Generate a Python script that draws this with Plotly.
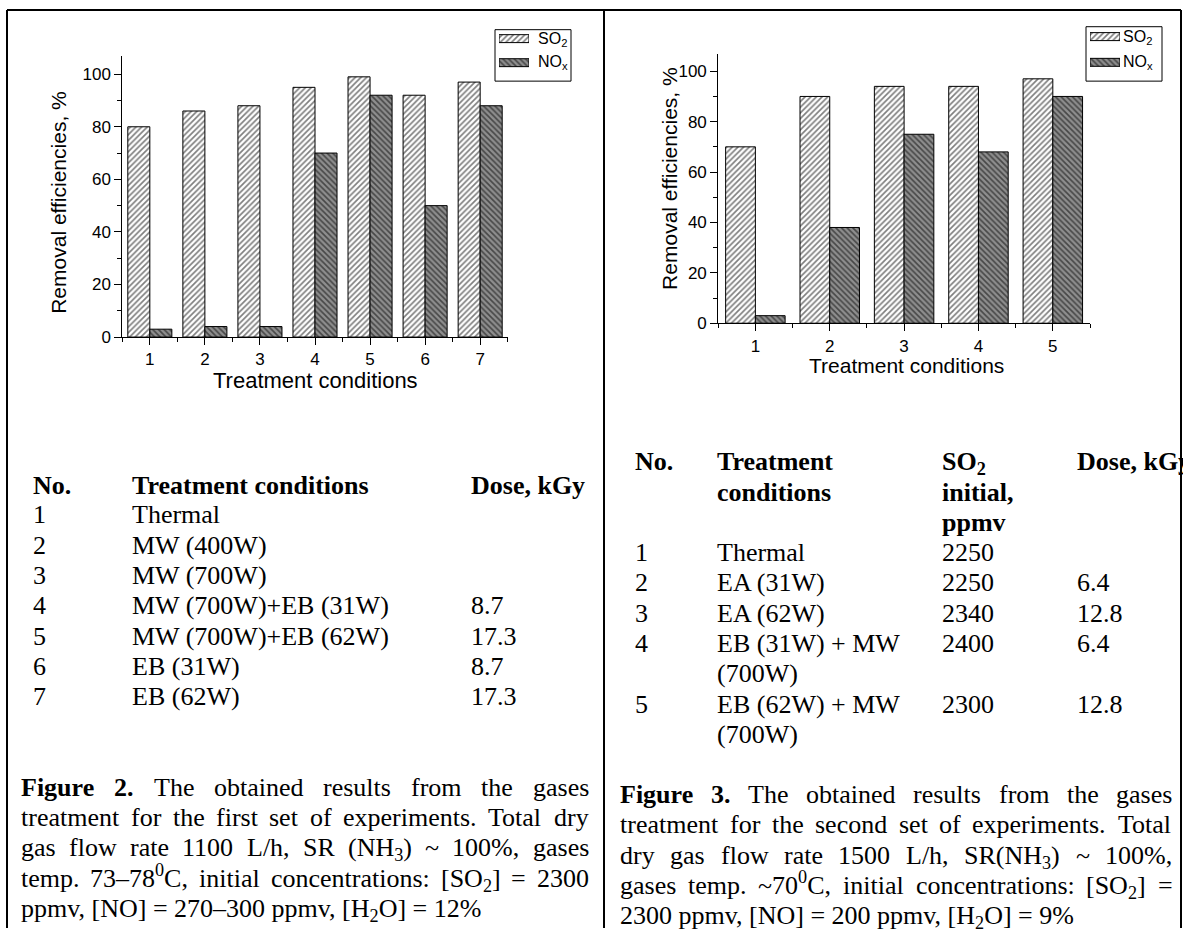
import re
import plotly.graph_objects as go

W, H = 1183, 938

# ---------------- data ----------------
conditions_fig2 = [1, 2, 3, 4, 5, 6, 7]
so2_fig2 = [80, 86, 88, 95, 99, 92, 97]
nox_fig2 = [3, 4, 4, 70, 92, 50, 88]

conditions_fig3 = [1, 2, 3, 4, 5]
so2_fig3 = [70, 90, 94, 94, 97]
nox_fig3 = [3, 38, 75, 68, 90]

series_names = ["SO<sub>2</sub>", "NO<sub>x</sub>"]
x_title = "Treatment conditions"
y_title = "Removal efficiencies, %"
y_ticks = [0, 20, 40, 60, 80, 100]
y_minor = [10, 30, 50, 70, 90]

table2_header = ["No.", "Treatment conditions", "Dose, kGy"]
table2_rows = [
    ["1", "Thermal", ""],
    ["2", "MW (400W)", ""],
    ["3", "MW (700W)", ""],
    ["4", "MW (700W)+EB (31W)", "8.7"],
    ["5", "MW (700W)+EB (62W)", "17.3"],
    ["6", "EB (31W)", "8.7"],
    ["7", "EB (62W)", "17.3"],
]

table3_header = [
    ["No.", "Treatment", "SO<sub>2</sub>", "Dose, kGy"],
    ["", "conditions", "initial,", ""],
    ["", "", "ppmv", ""],
]
table3_rows = [
    ["1", "Thermal", "2250", ""],
    ["2", "EA (31W)", "2250", "6.4"],
    ["3", "EA (62W)", "2340", "12.8"],
    ["4", "EB (31W) + MW", "2400", "6.4"],
    ["", "(700W)", "", ""],
    ["5", "EB (62W) + MW", "2300", "12.8"],
    ["", "(700W)", "", ""],
]

caption2_lines = [
    "<b>Figure</b> <b>2.</b> The obtained results from the gases",
    "treatment for the first set of experiments. Total dry",
    "gas flow rate 1100 L/h, SR (NH<sub>3</sub>) ~ 100%, gases",
    "temp. 73–78<sup>0</sup>C, initial concentrations: [SO<sub>2</sub>] = 2300",
    "ppmv, [NO] = 270–300 ppmv, [H<sub>2</sub>O] = 12%",
]
caption3_lines = [
    "<b>Figure</b> <b>3.</b> The obtained results from the gases",
    "treatment for the second set of experiments. Total",
    "dry gas flow rate 1500 L/h, SR(NH<sub>3</sub>) ~ 100%,",
    "gases temp. ~70<sup>0</sup>C, initial concentrations: [SO<sub>2</sub>] =",
    "2300 ppmv, [NO] = 200 ppmv, [H<sub>2</sub>O] = 9%",
]

# ---------------- helpers ----------------
SANS = "Liberation Sans, Arial, sans-serif"
SERIF = "Liberation Serif, Times New Roman, serif"
TXT_FS = 26

# Times New Roman advance widths (1/1000 em), used only for justification
REG = dict(zip("abcdefghijklmnopqrstuvwxyz",
               [444, 500, 444, 500, 444, 333, 500, 500, 278, 278, 500, 278, 778,
                500, 500, 500, 500, 333, 389, 278, 500, 500, 722, 500, 500, 444]))
REG.update(dict(zip("ABCDEFGHIJKLMNOPQRSTUVWXYZ",
                    [722, 667, 667, 722, 611, 556, 722, 722, 333, 389, 722, 611, 889,
                     722, 722, 556, 722, 667, 556, 611, 722, 722, 944, 722, 722, 611])))
REG.update({c: 500 for c in "0123456789"})
REG.update({" ": 250, ".": 250, ",": 250, ":": 278, ";": 278, "(": 333, ")": 333,
            "[": 333, "]": 333, "=": 564, "~": 541, "–": 500, "-": 333, "/": 278,
            "%": 833, "+": 564})
BOLD = dict(REG)
BOLD.update({"F": 611, "i": 278, "g": 500, "u": 556, "r": 444, "e": 444,
             "2": 500, "3": 500, ".": 250})


def text_width(s, fs):
    w, bold, scale = 0.0, False, 1.0
    for part in re.split(r"(<[^>]+>)", s):
        if not part:
            continue
        if part.startswith("<"):
            closing = part.startswith("</")
            tag = part.strip("</>").lower()
            if tag == "b":
                bold = not closing
            elif tag in ("sub", "sup"):
                scale = 1.0 if closing else 0.7
            continue
        for ch in part:
            w += (BOLD if bold else REG).get(ch, 500) * scale
    return w * fs / 1000.0


def px(x):
    return x / W


def py(y):
    return 1 - y / H


annotations = []


def add_text(x, yc, text, fs=TXT_FS, family=SERIF, xanchor="left"):
    ytop = yc - 0.56 * fs
    if "<sup>" in text:
        ytop -= 0.153 * fs
    annotations.append(dict(
        x=px(x), y=py(ytop), xref="paper", yref="paper", text=text,
        showarrow=False, xanchor=xanchor, yanchor="top",
        font=dict(family=family, size=fs, color="black"),
        borderpad=0, borderwidth=0))


def add_justified(lines, left, right, y0, step, fs=TXT_FS):
    for i, line in enumerate(lines):
        yc = y0 + i * step
        words = line.split(" ")
        if i == len(lines) - 1:
            add_text(left, yc, line, fs)
            continue
        widths = [text_width(wd, fs) for wd in words]
        gap = (right - left - sum(widths)) / (len(words) - 1)
        x = left
        for wd, wdt in zip(words, widths):
            add_text(x, yc, wd, fs)
            x += wdt + gap


# ---------------- figure ----------------
fig = go.Figure()

pat_so2 = dict(shape="/", fgcolor="black", bgcolor="white", size=4, solidity=0.42)
pat_nox = dict(shape="\\", fgcolor="black", bgcolor="#8e8e8e", size=4, solidity=0.4)
bar_line = dict(color="black", width=1)

fig.add_trace(go.Bar(x=conditions_fig2, y=so2_fig2, name="SO2", xaxis="x", yaxis="y",
                     marker=dict(color="white", pattern=pat_so2, line=bar_line)))
fig.add_trace(go.Bar(x=conditions_fig2, y=nox_fig2, name="NOx", xaxis="x", yaxis="y",
                     marker=dict(color="#8e8e8e", pattern=pat_nox, line=bar_line)))
fig.add_trace(go.Bar(x=conditions_fig3, y=so2_fig3, name="SO2", xaxis="x2", yaxis="y2",
                     marker=dict(color="white", pattern=pat_so2, line=bar_line)))
fig.add_trace(go.Bar(x=conditions_fig3, y=nox_fig3, name="NOx", xaxis="x2", yaxis="y2",
                     marker=dict(color="#8e8e8e", pattern=pat_nox, line=bar_line)))

# legend swatches (drawn as bars on tiny hidden axes)
for xa, ya, wdt in (("x3", "y3", 0.33), ("x4", "y4", 0.31)):
    fig.add_trace(go.Bar(x=[1], y=[1], orientation="h", xaxis=xa, yaxis=ya,
                         width=wdt, offset=-wdt / 2,
                         marker=dict(color="white", pattern=pat_so2, line=bar_line)))
    fig.add_trace(go.Bar(x=[1], y=[0], orientation="h", xaxis=xa, yaxis=ya,
                         width=wdt, offset=-wdt / 2,
                         marker=dict(color="#8e8e8e", pattern=pat_nox, line=bar_line)))

tickfont = dict(family=SANS, size=17, color="black")


def xaxis_cfg(dom, cats, anchor):
    return dict(domain=dom, range=[cats[0] - 0.5, cats[-1] + 0.5], anchor=anchor,
                tickvals=cats, ticktext=[str(c) for c in cats],
                showline=True, linecolor="black", linewidth=1,
                ticks="outside", ticklen=7, tickwidth=1, tickcolor="black",
                minor=dict(tickvals=[c - 0.5 for c in cats] + [cats[-1] + 0.5],
                           ticks="outside", ticklen=4, tickwidth=1, tickcolor="black"),
                tickfont=tickfont, showgrid=False, zeroline=False, fixedrange=True)


def yaxis_cfg(dom, anchor):
    return dict(domain=dom, range=[0, 107], anchor=anchor,
                tickvals=y_ticks, showline=True, linecolor="black", linewidth=1,
                ticks="outside", ticklen=7, tickwidth=1, tickcolor="black",
                minor=dict(tickvals=y_minor, ticks="outside", ticklen=4,
                           tickwidth=1, tickcolor="black"),
                tickfont=tickfont, showgrid=False, zeroline=False, fixedrange=True)


hidden = dict(visible=False, fixedrange=True, showgrid=False, zeroline=False)

fig.update_layout(
    width=W, height=H, margin=dict(l=0, r=0, t=0, b=0),
    paper_bgcolor="white", plot_bgcolor="rgba(0,0,0,0)",
    barmode="group", bargap=0.2, bargroupgap=0, showlegend=False,
    xaxis=xaxis_cfg([px(122.3), px(507.7)], conditions_fig2, "y"),
    yaxis=yaxis_cfg([py(340.7), py(56.4)], "x"),
    xaxis2=xaxis_cfg([px(718.2), px(1090)], conditions_fig3, "y2"),
    yaxis2=yaxis_cfg([py(326.7), py(54.2)], "x2"),
    xaxis3=dict(domain=[px(499), px(529)], range=[0, 1], anchor="y3", **hidden),
    yaxis3=dict(domain=[py(75.5), py(26.9)], range=[-0.5, 1.5], anchor="x3", **hidden),
    xaxis4=dict(domain=[px(1090), px(1120)], range=[0, 1], anchor="y4", **hidden),
    yaxis4=dict(domain=[py(76), py(24)], range=[-0.5, 1.5], anchor="x4", **hidden),
)

# frame lines and legend boxes
shapes = []
for x0, y0, x1, y1 in ((7, 10, 1181, 10), (7, 10, 7, 938), (604, 10, 604, 938),
                       (1181, 10, 1181, 938)):
    shapes.append(dict(type="line", xref="paper", yref="paper", x0=px(x0), y0=py(y0),
                       x1=px(x1), y1=py(y1), line=dict(color="black", width=2),
                       layer="above"))
for x0, y0, x1, y1 in ((495, 30, 571, 82), (1086, 27, 1162, 82)):
    shapes.append(dict(type="rect", xref="paper", yref="paper", x0=px(x0), y0=py(y0),
                       x1=px(x1), y1=py(y1), line=dict(color="black", width=1),
                       fillcolor="white", layer="below"))
fig.update_layout(shapes=shapes)

# legend labels
add_text(538, 39, series_names[0], fs=16, family=SANS)
add_text(538, 63, series_names[1], fs=16, family=SANS)
add_text(1123, 37, series_names[0], fs=16, family=SANS)
add_text(1123, 63, series_names[1], fs=16, family=SANS)

# axis titles
for x, y in ((58.5, 204.5), (668.8, 180)):
    annotations.append(dict(x=px(x), y=py(y), xref="paper", yref="paper", text=y_title,
                            showarrow=False, textangle=-90, xanchor="center",
                            yanchor="middle", font=dict(family=SANS, size=21, color="black")))
for x, y, fs in ((315, 385, 22), (906, 369.5, 21)):
    annotations.append(dict(x=px(x), y=py(y), xref="paper", yref="paper", text=x_title,
                            showarrow=False, xanchor="center", yanchor="middle",
                            font=dict(family=SANS, size=fs, color="black")))

# table for Figure 2
cols2 = [32.5, 132, 470.7]
step = 30.6
y_head2 = 491
for x, t in zip(cols2, table2_header):
    add_text(x, y_head2, "<b>" + t + "</b>")
for i, row in enumerate(table2_rows):
    for x, t in zip(cols2, row):
        if t:
            add_text(x, 520.4 + i * step, t)

# table for Figure 3
cols3 = [635, 717, 942, 1077]
y_head3 = 466.7
for i, row in enumerate(table3_header):
    for x, t in zip(cols3, row):
        if t:
            add_text(x, y_head3 + i * step, "<b>" + t + "</b>")
for i, row in enumerate(table3_rows):
    for x, t in zip(cols3, row):
        if t:
            add_text(x, y_head3 + (i + 3) * step, t)

# captions (justified)
add_justified(caption2_lines, 21, 589, 795.6, step)
add_justified(caption3_lines, 620, 1172.5, 803, step)

fig.update_layout(annotations=annotations)
fig.write_html(
    "out.html",
    config={"displayModeBar": False, "staticPlot": True},
    post_script="document.body.style.margin='0';document.body.style.overflow='hidden';",
)
